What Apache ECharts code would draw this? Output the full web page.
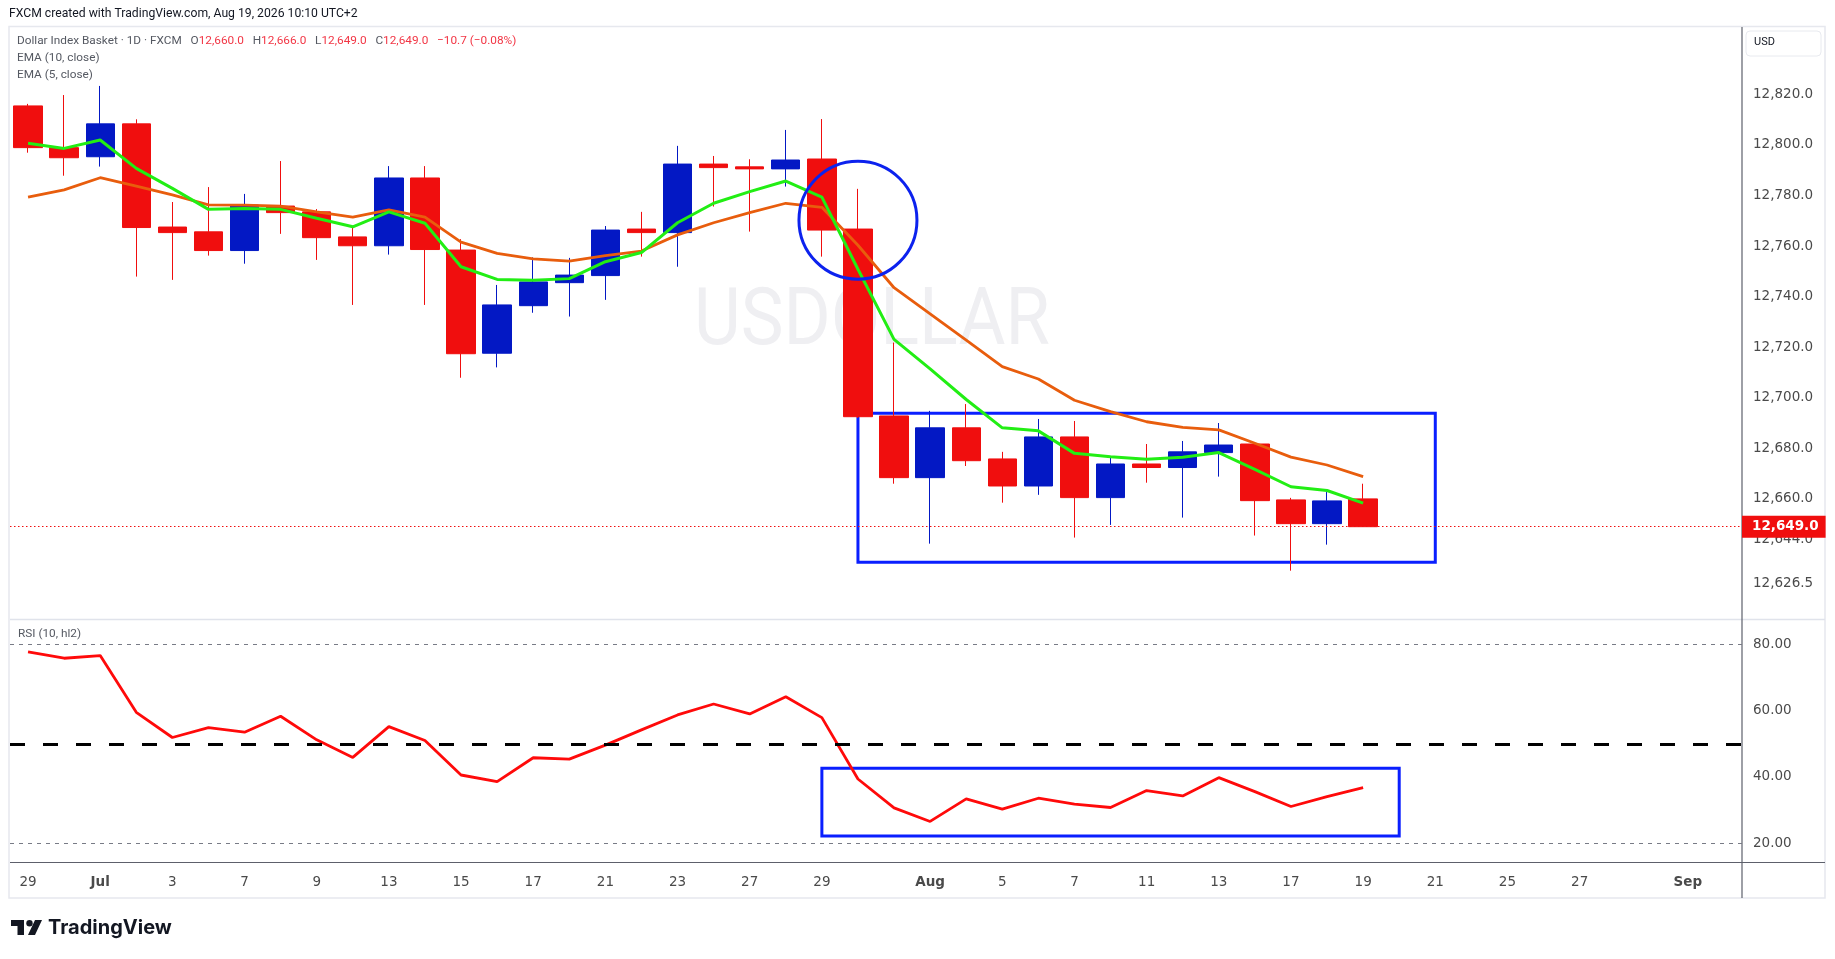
<!DOCTYPE html>
<html><head><meta charset="utf-8">
<script src="https://cdn.jsdelivr.net/npm/echarts@6/dist/echarts.min.js"></script>
<style>html,body{margin:0;padding:0;background:#fff;overflow:hidden}#c{width:1835px;height:959px}</style>
</head><body><div id="c"></div>
<script>
// ---------- data ----------
const dates = ['2026-06-29','2026-06-30','2026-07-01','2026-07-02','2026-07-03','2026-07-06','2026-07-07','2026-07-08','2026-07-09','2026-07-10','2026-07-13','2026-07-14','2026-07-15','2026-07-16','2026-07-17','2026-07-20','2026-07-21','2026-07-22','2026-07-23','2026-07-24','2026-07-27','2026-07-28','2026-07-29','2026-07-30','2026-07-31','2026-08-03','2026-08-04','2026-08-05','2026-08-06','2026-08-07','2026-08-10','2026-08-11','2026-08-12','2026-08-13','2026-08-14','2026-08-17','2026-08-18','2026-08-19','2026-08-20','2026-08-21','2026-08-24','2026-08-25','2026-08-26','2026-08-27','2026-08-28','2026-08-31','2026-09-01','2026-09-02'];
const tickLabels = ['29','','Jul','','3','','7','','9','','13','','15','','17','','21','','23','','27','','29','','','Aug','','5','','7','','11','','13','','17','','19','','21','','25','','27','','','Sep',''];
const opens  = [12815.4,12798.9,12795.3,12808.3,12767.5,12765.6,12758.2,12775.8,12773.5,12763.6,12760.1,12786.9,12758.4,12717.6,12736.4,12745.5,12748.3,12766.7,12765.3,12792.4,12791.3,12790.5,12794.4,12766.7,12692.8,12668.4,12688.1,12675.8,12665.1,12684.5,12660.5,12673.8,12672.4,12678.3,12681.7,12659.6,12650.2,12660.0];
const highs  = [12816.2,12819.7,12823.3,12810.1,12777.4,12783.3,12780.6,12793.6,12774.6,12767.6,12791.6,12791.6,12762.7,12744.6,12755.5,12755.3,12767.9,12773.5,12799.6,12795.6,12794.3,12805.9,12810.2,12782.6,12721.8,12694.8,12697.5,12678.6,12691.6,12690.8,12676.5,12681.7,12682.9,12690.0,12682.0,12660.4,12662.7,12666.0];
const lows   = [12796.9,12787.8,12791.4,12747.9,12746.6,12756.2,12753.0,12764.8,12754.5,12736.7,12756.6,12736.7,12707.9,12712.0,12733.6,12732.1,12738.7,12755.8,12751.8,12775.6,12765.7,12783.5,12755.8,12692.0,12666.0,12642.3,12673.0,12658.5,12661.6,12644.7,12649.7,12666.4,12652.6,12668.8,12645.5,12631.6,12641.9,12649.0];
const closes = [12798.9,12794.9,12808.3,12767.3,12765.3,12758.2,12776.2,12773.2,12763.3,12760.1,12786.9,12758.6,12717.4,12736.7,12745.8,12748.5,12766.3,12765.3,12792.4,12791.0,12790.5,12794.0,12766.3,12692.5,12668.4,12688.1,12675.1,12665.1,12684.5,12660.5,12673.8,12672.4,12678.6,12681.3,12659.3,12650.2,12659.2,12649.0];
const ema10  = [12779.3,12782.2,12787.0,12783.7,12780.2,12776.3,12776.2,12775.8,12773.5,12771.4,12774.3,12771.4,12761.5,12757.1,12754.9,12754.0,12756.2,12758.0,12764.4,12769.2,12773.2,12776.9,12775.3,12760.3,12743.5,12733.2,12722.8,12712.3,12707.4,12699.0,12694.5,12690.5,12688.3,12687.3,12682.0,12676.5,12673.4,12668.8];
const ema5   = [12800.6,12798.6,12801.9,12790.7,12782.8,12774.5,12774.8,12774.5,12771.0,12767.6,12773.5,12769.0,12751.8,12746.8,12746.5,12747.1,12753.8,12757.4,12769.2,12776.9,12781.5,12785.7,12779.3,12750.8,12723.1,12711.4,12699.3,12688.1,12686.9,12678.0,12676.7,12675.7,12676.5,12678.3,12671.7,12664.8,12663.3,12658.3];
const rsi    = [77.7,75.8,76.6,59.5,51.9,54.9,53.5,58.3,51.2,45.9,55.2,51.0,40.6,38.6,45.8,45.4,49.6,54.2,58.7,62.0,59.0,64.2,57.9,39.4,30.7,26.6,33.4,30.3,33.6,31.8,30.8,35.9,34.3,39.8,35.6,31.1,34.1,36.8];
const priceTicks = [12660,12680,12700,12720,12740,12760,12780,12800,12820,12644,12626.5];
const rsiTicks = [20,40,60,80];
const lastPrice = 12649.0;
// annotations (in data units)
const priceBox = {from:'2026-07-30', to:'2026-08-21', top:12693.9, bottom:12634.9};
const rsiBox   = {from:'2026-07-29', to:'2026-08-20', top:42.6, bottom:22.2};
const circleAt = {date:'2026-07-30', price:12770.2};

// ---------- chart ----------
const RED='#f00e0e', BLUE='#0318c4', ANN='#0a1fff';
const AXF="'DejaVu Sans', sans-serif";
const chart = echarts.init(document.getElementById('c'), null, {renderer:'canvas'});
const candleData = opens.map((o,i)=>[o, closes[i], lows[i], highs[i]]);
const fmtPrice = v => Number(v).toLocaleString('en-US',{minimumFractionDigits:1, maximumFractionDigits:1});

const L=10, R=93;
chart.setOption({
  animation:false,
  backgroundColor:'#ffffff',
  grid:[
    {left:L, right:R, top:26, height:593},
    {left:L, right:R, top:619, height:244}
  ],
  xAxis:[
    {type:'category', gridIndex:0, data:dates, boundaryGap:true,
     axisLine:{show:false}, axisTick:{show:false}, axisLabel:{show:false}, splitLine:{show:false}},
    {type:'category', gridIndex:1, data:dates, boundaryGap:true,
     axisLine:{show:false}, axisTick:{show:false}, splitLine:{show:false},
     axisLabel:{interval:0, hideOverlap:false, margin:12, color:'#4a4a4a', fontFamily:AXF, fontSize:13.5,
       formatter:(v,i)=>{const t=tickLabels[i]; return /^[A-Z]/.test(t)?'{b|'+t+'}':t;},
       rich:{b:{fontWeight:'bold', fontFamily:AXF, fontSize:13.5, color:'#4a4a4a'}}}}
  ],
  yAxis:[
    {type:'value', gridIndex:0, position:'right', min:12612.5, max:12847.0, scale:true,
     axisLine:{show:false}, axisTick:{show:false}, splitLine:{show:false},
     axisLabel:{customValues:priceTicks, margin:11, color:'#4a4a4a', fontFamily:AXF, fontSize:13.5, formatter:fmtPrice}},
    {type:'value', gridIndex:1, position:'right', min:14.07, max:87.63,
     axisLine:{show:false}, axisTick:{show:false}, splitLine:{show:false},
     axisLabel:{customValues:rsiTicks, margin:11, color:'#4a4a4a', fontFamily:AXF, fontSize:13.5, formatter:v=>Number(v).toFixed(2)}}
  ],
  series:[
    {type:'candlestick', name:'Dollar Index Basket', xAxisIndex:0, yAxisIndex:0, data:candleData, barWidth:'80%',
     itemStyle:{color:BLUE, color0:RED, borderColor:BLUE, borderColor0:RED, borderWidth:1},
     markLine:{silent:true, symbol:'none', animation:false,
       data:[{yAxis:lastPrice}],
       lineStyle:{color:RED, type:[1.5,2.5], width:1},
       label:{position:'end', distance:0, formatter:fmtPrice(lastPrice), backgroundColor:RED, color:'#fff',
              fontFamily:AXF, fontSize:13.5, fontWeight:'bold', padding:[4,7,4,10]}},
     markArea:{silent:true,
       itemStyle:{color:'rgba(0,0,0,0)', borderColor:ANN, borderWidth:3},
       data:[[{xAxis:priceBox.from, yAxis:priceBox.top},{xAxis:priceBox.to, yAxis:priceBox.bottom}]]},
     markPoint:{silent:true, symbol:'circle', symbolSize:118,
       itemStyle:{color:'rgba(0,0,0,0)', borderColor:'#0c22ee', borderWidth:3},
       label:{show:false},
       data:[{coord:[circleAt.date, circleAt.price]}]}
    },
    {type:'line', name:'EMA 10', xAxisIndex:0, yAxisIndex:0, data:ema10, symbol:'none', smooth:false,
     lineStyle:{color:'#e85d0d', width:2.8}, z:3},
    {type:'line', name:'EMA 5', xAxisIndex:0, yAxisIndex:0, data:ema5, symbol:'none', smooth:false,
     lineStyle:{color:'#22ee14', width:3}, z:4},
    {type:'line', name:'RSI', xAxisIndex:1, yAxisIndex:1, data:rsi, symbol:'none', smooth:false,
     lineStyle:{color:'#ff0a0a', width:2.8}, z:4,
     markLine:{silent:true, symbol:'none', label:{show:false},
       data:[
         {yAxis:80, lineStyle:{color:'#787b86', type:[4,5], width:1}},
         {yAxis:20, lineStyle:{color:'#787b86', type:[4,5], width:1}},
         {yAxis:50, lineStyle:{color:'#000000', type:[15,18], width:3}}
       ]},
     markArea:{silent:true,
       itemStyle:{color:'rgba(0,0,0,0)', borderColor:ANN, borderWidth:3},
       data:[[{xAxis:rsiBox.from, yAxis:rsiBox.top},{xAxis:rsiBox.to, yAxis:rsiBox.bottom}]]}
    }
  ],
  graphic:[
    // watermark
    {type:'text', z:-1, left:694, top:284, silent:true,
     style:{text:'USDOLLAR', fill:'#efeff2', font:'80px Roboto, sans-serif'}, scaleX:0.9},
    // frame & separators
    {type:'rect', z:-2, silent:true, shape:{x:9, y:26.5, width:1816, height:871.5},
     style:{fill:'none', stroke:'#e6e8ee', lineWidth:1.5}},
    {type:'line', z:1, silent:true, shape:{x1:10, y1:619.5, x2:1825, y2:619.5}, style:{stroke:'#e0e3eb', lineWidth:1.5}},
    {type:'line', z:1, silent:true, shape:{x1:10, y1:862.5, x2:1825, y2:862.5}, style:{stroke:'#5d606b', lineWidth:1.2}},
    {type:'line', z:1, silent:true, shape:{x1:1742, y1:27, x2:1742, y2:898}, style:{stroke:'#5d606b', lineWidth:1.2}},
    // USD box
    {type:'rect', z:1, silent:true, shape:{x:1746, y:31, width:75, height:25, r:4},
     style:{fill:'#fff', stroke:'#e8eaef', lineWidth:1}},
    {type:'text', z:2, silent:true, left:1754, top:37,
     style:{text:'USD', fill:'#131722', font:'11px Roboto, sans-serif'}},
    // header texts
    {type:'text', silent:true, left:9, top:8,
     style:{text:'FXCM created with TradingView.com, Aug 19, 2026 10:10 UTC+2', fill:'#131722', font:'12.2px Roboto, sans-serif'}},
    {type:'text', silent:true, left:17, top:35,
     style:{rich:{g:{fill:'#555962', font:'11.8px Roboto, sans-serif'}, r:{fill:'#f23645', font:'11.8px Roboto, sans-serif'}},
       text:'{g|Dollar Index Basket · 1D · FXCM   O}{r|12,660.0}{g|   H}{r|12,666.0}{g|   L}{r|12,649.0}{g|   C}{r|12,649.0}{r|   −10.7 (−0.08%)}'}},
    {type:'text', silent:true, left:17, top:52,
     style:{text:'EMA (10, close)', fill:'#555962', font:'11.8px Roboto, sans-serif'}},
    {type:'text', silent:true, left:17, top:69,
     style:{text:'EMA (5, close)', fill:'#555962', font:'11.8px Roboto, sans-serif'}},
    {type:'text', silent:true, left:18, top:628,
     style:{text:'RSI (10, hl2)', fill:'#555962', font:'11.8px Roboto, sans-serif'}},
    // TradingView logo
    {type:'group', left:11, top:920, silent:true, children:[
      {type:'polygon', shape:{points:[[0,0],[13,0],[13,15],[6.5,15],[6.5,6],[0,6]]}, style:{fill:'#131722'}},
      {type:'circle', shape:{cx:18.5, cy:3.2, r:3.2}, style:{fill:'#131722'}},
      {type:'polygon', shape:{points:[[24,0],[31,0],[24,15],[17,15]]}, style:{fill:'#131722'}}
    ]},
    {type:'text', silent:true, left:48, top:918,
     style:{text:'TradingView', fill:'#131722', font:'bold 20px Inter, Roboto, sans-serif'}}
  ]
});
</script></body></html>
